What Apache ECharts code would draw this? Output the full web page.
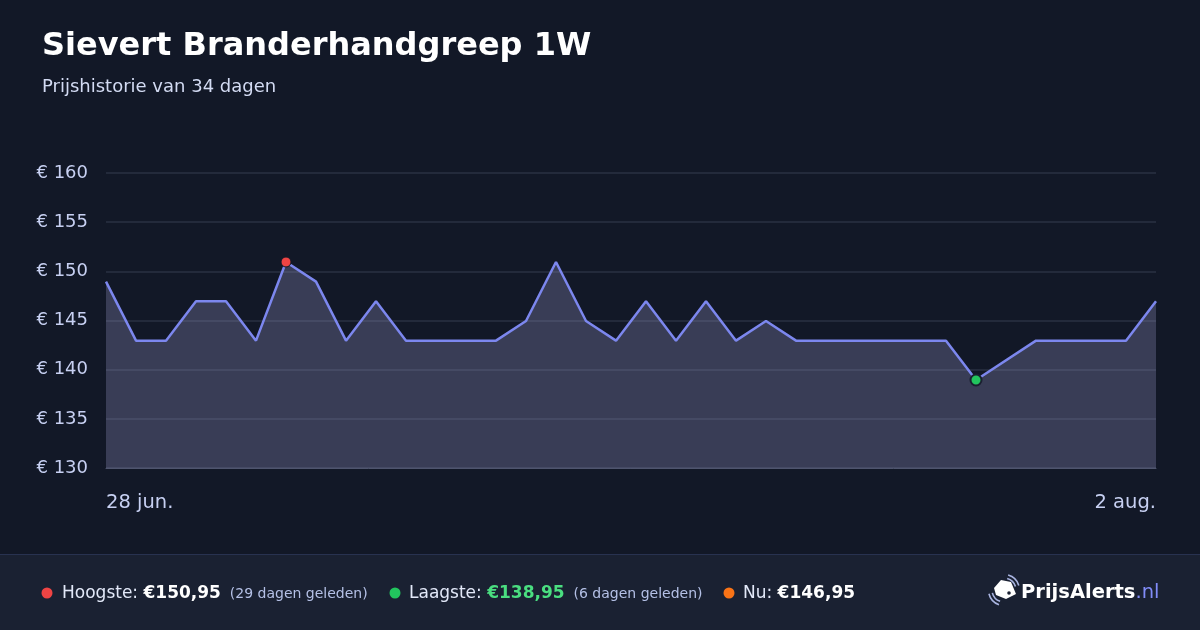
<!DOCTYPE html>
<html>
<head>
<meta charset="utf-8">
<script src="https://cdn.jsdelivr.net/npm/echarts@6/dist/echarts.min.js"></script>
<style>
html,body{margin:0;padding:0;background:#121827;}
#c{width:1200px;height:630px;}
</style>
</head>
<body>
<div id="c"></div>
<script>
const dates = ['28 jun.','29 jun.','30 jun.','1 jul.','2 jul.','3 jul.','4 jul.','5 jul.','6 jul.','7 jul.','8 jul.','9 jul.','10 jul.','11 jul.','12 jul.','13 jul.','14 jul.','15 jul.','16 jul.','17 jul.','18 jul.','19 jul.','20 jul.','21 jul.','22 jul.','23 jul.','24 jul.','25 jul.','26 jul.','27 jul.','28 jul.','29 jul.','30 jul.','31 jul.','1 aug.','2 aug.'];
const prices = [148.95,142.95,142.95,146.95,146.95,142.95,150.95,148.95,142.95,146.95,142.95,142.95,142.95,142.95,144.95,150.95,144.95,142.95,146.95,142.95,146.95,142.95,144.95,142.95,142.95,142.95,142.95,142.95,142.95,138.95,null,142.95,142.95,142.95,142.95,146.95];
const yTicks = [130,135,140,145,150,155,160];

const FONT = 'DejaVu Sans';
const vals = prices.filter(v => v !== null);
const maxV = Math.max(...vals), minV = Math.min(...vals);
const maxI = prices.indexOf(maxV), minI = prices.indexOf(minV);
const seriesData = prices.map((v, i) => {
  if (i === maxI) return {value: v, symbol: 'circle', symbolSize: 10, itemStyle: {color: '#ef4444', borderColor: '#121827', borderWidth: 1}};
  if (i === minI) return {value: v, symbol: 'circle', symbolSize: 11, itemStyle: {color: '#22c55e', borderColor: '#1a2030', borderWidth: 2}};
  return {value: v, symbol: 'none'};
});

const chart = echarts.init(document.getElementById('c'), null, {renderer: 'canvas'});
chart.setOption({
  backgroundColor: '#121827',
  animation: false,
  grid: {left: 106, right: 44, top: 173, bottom: 162},
  xAxis: {
    type: 'category',
    data: dates,
    boundaryGap: false,
    axisLine: {show: true, lineStyle: {color: '#4f556e', width: 1}},
    axisTick: {show: false},
    splitLine: {show: false},
    axisLabel: {
      color: '#c7d0f2', fontFamily: FONT, fontSize: 19.5, margin: 25,
      interval: (i) => i === 0 || i === dates.length - 1,
      showMinLabel: true, showMaxLabel: true,
      alignMinLabel: 'left', alignMaxLabel: 'right'
    }
  },
  yAxis: {
    type: 'value',
    min: yTicks[0], max: yTicks[yTicks.length - 1], interval: 5,
    axisLine: {show: false},
    axisTick: {show: false},
    splitLine: {lineStyle: {color: '#232a3b', width: 2}},
    axisLabel: {color: '#c7d0f2', fontFamily: FONT, fontSize: 18, margin: 18, formatter: v => '€ ' + v}
  },
  series: [{
    type: 'line',
    data: seriesData,
    connectNulls: true,
    showSymbol: true,
    lineStyle: {color: '#7c87ee', width: 2.5},
    itemStyle: {color: '#7c87ee'},
    areaStyle: {color: 'rgba(150,150,196,0.3)', opacity: 1},
    z: 3
  }],
  graphic: [
    {type: 'text', left: 42, top: 31, style: {text: 'Sievert Branderhandgreep 1W', fill: '#ffffff', font: 'bold 32px "DejaVu Sans"'}},
    {type: 'text', left: 42, top: 78, style: {text: 'Prijshistorie van 34 dagen', fill: '#d3dbf3', font: '18px "DejaVu Sans"'}},
    {type: 'rect', shape: {x: 0, y: 554, width: 1200, height: 76}, style: {fill: '#1a2132'}},
    {type: 'rect', shape: {x: 0, y: 554, width: 1200, height: 1}, style: {fill: '#283250'}},
    {type: 'circle', shape: {cx: 47, cy: 593, r: 5.5}, style: {fill: '#ef4444'}},
    {type: 'text', x: 62, y: 594, style: {
      text: '{l|Hoogste: }{v|€150,95}{s|  (29 dagen geleden)}', verticalAlign: 'middle',
      rich: {
        l: {fill: '#e2e8f8', font: '17px "DejaVu Sans"'},
        v: {fill: '#ffffff', font: 'bold 17px "DejaVu Sans"'},
        s: {fill: '#b4c0e6', font: '14px "DejaVu Sans"'}
      }}},
    {type: 'circle', shape: {cx: 395, cy: 593, r: 5.5}, style: {fill: '#22c55e'}},
    {type: 'text', x: 409, y: 594, style: {
      text: '{l|Laagste: }{v|€138,95}{s|  (6 dagen geleden)}', verticalAlign: 'middle',
      rich: {
        l: {fill: '#e2e8f8', font: '17px "DejaVu Sans"'},
        v: {fill: '#4ade80', font: 'bold 17px "DejaVu Sans"'},
        s: {fill: '#b4c0e6', font: '14px "DejaVu Sans"'}
      }}},
    {type: 'circle', shape: {cx: 729, cy: 593, r: 5.5}, style: {fill: '#f97316'}},
    {type: 'text', x: 743, y: 594, style: {
      text: '{l|Nu: }{v|€146,95}', verticalAlign: 'middle',
      rich: {
        l: {fill: '#e2e8f8', font: '17px "DejaVu Sans"'},
        v: {fill: '#ffffff', font: 'bold 17px "DejaVu Sans"'}
      }}},
    // logo icon
    {type: 'polygon', shape: {points: [[994,588],[1001,580],[1011,582],[1016,594],[1006,599],[996,595]]}, style: {fill: '#ffffff'}},
    {type: 'circle', shape: {cx: 1009, cy: 593, r: 1.8}, style: {fill: '#1a2132'}},
    {type: 'arc', shape: {cx: 1004, cy: 590, r: 12, startAngle: 1.9, endAngle: 2.9}, style: {stroke: '#a9b4e0', lineWidth: 1.6, fill: 'none'}},
    {type: 'arc', shape: {cx: 1004, cy: 590, r: 15.5, startAngle: 1.9, endAngle: 2.9}, style: {stroke: '#a9b4e0', lineWidth: 1.6, fill: 'none'}},
    {type: 'arc', shape: {cx: 1004, cy: 590, r: 12, startAngle: -1.3, endAngle: -0.3}, style: {stroke: '#a9b4e0', lineWidth: 1.6, fill: 'none'}},
    {type: 'arc', shape: {cx: 1004, cy: 590, r: 15.5, startAngle: -1.3, endAngle: -0.3}, style: {stroke: '#a9b4e0', lineWidth: 1.6, fill: 'none'}},
    {type: 'text', x: 1021, y: 593, style: {
      text: '{b|PrijsAlerts}{n|.nl}', verticalAlign: 'middle',
      rich: {
        b: {fill: '#ffffff', font: 'bold 19.5px "DejaVu Sans"'},
        n: {fill: '#818cf8', font: '19.5px "DejaVu Sans"'}
      }}}
  ]
});
</script>
</body>
</html>
